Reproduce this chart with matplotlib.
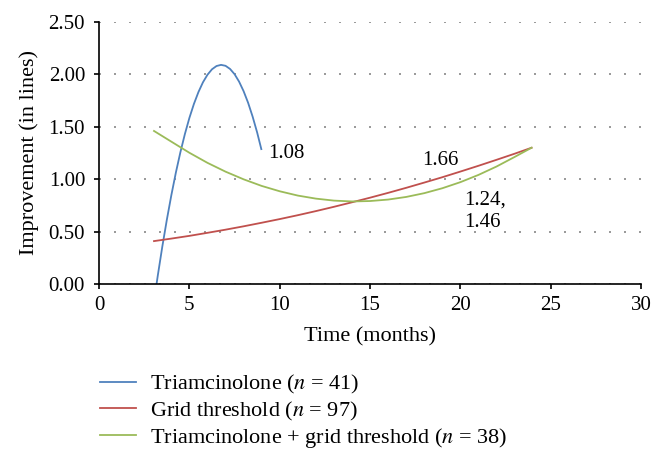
import numpy as np
import matplotlib
matplotlib.use("Agg")
import matplotlib.pyplot as plt

plt.rcParams['font.family'] = ['Liberation Serif', 'DejaVu Serif']
plt.rcParams['mathtext.fontset'] = 'stix'

# values (trend lines, read point by point)
triam_x = [3.18, 3.25, 3.5, 3.75, 4.0, 4.25, 4.5, 4.75, 5.0, 5.25, 5.5, 5.75, 6.0,
           6.25, 6.5, 6.75, 7.0, 7.25, 7.5, 7.75, 8.0, 8.25, 8.5, 8.75, 8.98]
triam_y = [0.000, 0.082, 0.358, 0.613, 0.848, 1.063, 1.257, 1.431, 1.585, 1.718, 1.831, 1.924, 1.996,
           2.048, 2.079, 2.090, 2.081, 2.051, 2.001, 1.930, 1.839, 1.728, 1.596, 1.445, 1.287]

grid_x = [3.04, 4, 5, 6, 7, 8, 9, 10, 11, 12, 13, 14, 15, 16, 17, 18, 19, 20, 21, 22, 23, 23.94]
grid_y = [0.410, 0.434, 0.460, 0.489, 0.519, 0.551, 0.585, 0.620, 0.657, 0.696, 0.737, 0.780,
          0.824, 0.870, 0.918, 0.968, 1.019, 1.073, 1.128, 1.185, 1.243, 1.300]

combo_x = [3.04, 4, 5, 6, 7, 8, 9, 10, 11, 12, 13, 14, 15, 16, 17, 18, 19, 20, 21, 22, 23, 23.94]
combo_y = [1.460, 1.358, 1.252, 1.156, 1.072, 0.999, 0.936, 0.885, 0.844, 0.815, 0.796, 0.788,
           0.792, 0.806, 0.831, 0.867, 0.914, 0.972, 1.041, 1.121, 1.212, 1.300]

labels = ['Triamcinolone ($n$ = 41)', 'Grid threshold ($n$ = 97)',
          'Triamcinolone + grid threshold ($n$ = 38)']
colors = ['#4F81BD', '#C0504D', '#9BBB59']

notes = ['1.08', '1.66', '1.24,', '1.46']
note_x = [9.35, 17.86, 20.2, 20.2]
note_y = [1.245, 1.176, 0.80, 0.59]

fig = plt.figure(figsize=(6.65, 4.65), dpi=100)
ax = fig.add_axes([0.149, 0.389, 0.815, 0.564])

series = [(triam_x, triam_y), (grid_x, grid_y), (combo_x, combo_y)]
for (xs, ys), lab, col in zip(series, labels, colors):
    ax.plot(xs, ys, color=col, lw=1.3, label=lab)

for t, x, y in zip(notes, note_x, note_y):
    ax.text(x, y, t, fontsize=15, va='center', ha='left')

ax.set_xlim(0, 30)
ax.set_ylim(0, 2.5)
ax.set_xticks(np.arange(0, 31, 5))
ax.set_yticks(np.arange(0, 2.51, 0.5))
ax.set_yticklabels([f'{v:.2f}' for v in np.arange(0, 2.51, 0.5)])
ax.tick_params(labelsize=15, direction='out', length=3.6, width=1.2, color='black')
ax.tick_params(axis='x', pad=5)
ax.tick_params(axis='y', pad=6.5)
ax.yaxis.grid(True, color='#888888', linestyle=(0, (1.2, 7.8)), lw=1.2)
ax.set_axisbelow(True)
for s in ['top', 'right']:
    ax.spines[s].set_visible(False)
for s in ['left', 'bottom']:
    ax.spines[s].set_linewidth(1.2)

ax.set_xlabel('Time (months)', fontsize=16, labelpad=9)
ax.set_ylabel('Improvement (in lines)', fontsize=16, labelpad=7)

ax.legend(loc='upper left', bbox_to_anchor=(0.150, 0.197), bbox_transform=fig.transFigure,
          frameon=False, fontsize=16, handlelength=1.62, handletextpad=0.63,
          labelspacing=0.15, borderaxespad=0, borderpad=0)

fig.savefig('out.png', dpi=100)
